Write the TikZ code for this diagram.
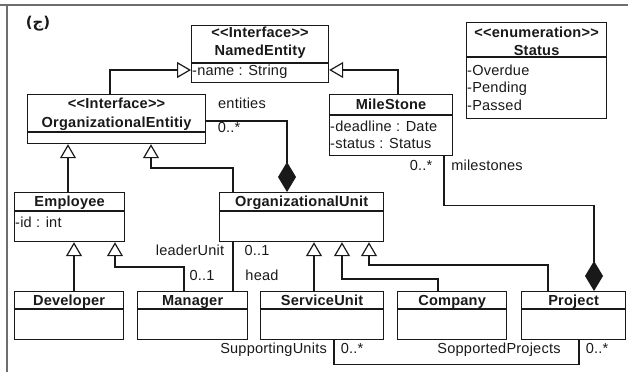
\documentclass[tikz,border=0pt]{standalone}
\usepackage{fontspec}
\setmainfont{Liberation Sans}[LetterSpace=1.5]
\newfontfamily\arabicfont[Script=Arabic]{DejaVu Sans}
\usetikzlibrary{arrows.meta}
\definecolor{ink}{RGB}{25,25,25}
\definecolor{framegray}{RGB}{110,110,110}
\tikzset{
  clsbox/.style={draw=ink, line width=1.2bp, inner sep=0pt, rectangle},
  divline/.style={draw=ink, line width=1.2bp},
  hd/.style={font=\fontsize{14.6}{16}\selectfont\bfseries, inner sep=0pt, text=ink, anchor=base},
  attr/.style={font=\fontsize{14.6}{16}\selectfont, inner sep=0pt, anchor=base west, text=ink},
  lbl/.style={font=\fontsize{14.6}{16}\selectfont, inner sep=0pt, text=ink, anchor=base},
  conn/.style={draw=ink, line width=1.2bp},
  gen/.style={conn, -{Triangle[open, length=14bp, width=16bp]}},
  comp/.style={conn, -{Diamond[length=30bp, width=18bp]}},
  frameline/.style={draw=framegray, line width=2bp},
}
% name, x1, y1, x2, y2, divider y
\newcommand\umlbox[6]{%
  \node[clsbox, anchor=north west, minimum width={(#4-#2)*1bp}, minimum height={(#5-#3)*1bp}] (#1) at (#2,#3) {};
  \draw[divline] (#1.west |- 0,#6) -- (#1.east |- 0,#6);
}
\begin{document}
\begin{tikzpicture}[x=1bp,y=-1bp]
\useasboundingbox (0,0) rectangle (635,372);
% frame
\draw[frameline] (0,5) -- (628,5);
\draw[frameline] (6.5,5) -- (6.5,372);
\node[inner sep=0pt, text=ink] (tag) at (38,24) {\arabicfont\bfseries\fontsize{15}{17}\selectfont (ج)};

% boxes
\umlbox{ne}{191}{25}{328}{82}{63}
\umlbox{st}{466}{22}{606}{118}{57}
\umlbox{oe}{27}{94}{205}{143}{132}
\umlbox{ms}{329}{94}{452}{155}{115}
\umlbox{em}{14}{192}{124}{241}{211}
\umlbox{ou}{219}{192}{383}{241}{211}
\umlbox{dv}{14}{291}{123}{339}{309}
\umlbox{mg}{137}{291}{247}{339}{309}
\umlbox{su}{260}{291}{383}{339}{309}
\umlbox{co}{397}{291}{506}{339}{309}
\umlbox{pr}{521}{291}{625}{339}{309}

% texts
\node[hd] (neS) at (ne.north |- 0,37) {<{}<Interface>{}>};
\node[hd] (neN) at (ne.north |- 0,55) {NamedEntity};
\node[attr] (neA) at ([xshift=1bp]ne.west |- 0,75) {-name : String};

\node[hd] (stS) at (st.north |- 0,37) {<{}<enumeration>{}>};
\node[hd] (stN) at (st.north |- 0,55) {Status};
\node[attr] (stA) at ([xshift=1bp]st.west |- 0,75) {-Overdue};
\node[attr] (stB) at ([xshift=1bp]st.west |- 0,92) {-Pending};
\node[attr] (stC) at ([xshift=1bp]st.west |- 0,110) {-Passed};

\node[hd] (oeS) at (oe.north |- 0,108) {<{}<Interface>{}>};
\node[hd] (oeN) at (oe.north |- 0,127) {OrganizationalEntitiy};

\node[hd] (msN) at (ms.north |- 0,109) {MileStone};
\node[attr] (msA) at ([xshift=1bp]ms.west |- 0,131) {-deadline : Date};
\node[attr] (msB) at ([xshift=1bp]ms.west |- 0,148) {-status : Status};

\node[hd] (emN) at (em.north |- 0,206) {Employee};
\node[attr] (emA) at ([xshift=1bp]em.west |- 0,227) {-id : int};

\node[hd] (ouN) at (ou.north |- 0,206) {OrganizationalUnit};

\node[hd] (dvN) at (dv.north |- 0,305) {Developer};
\node[hd] (mgN) at (mg.north |- 0,305) {Manager};
\node[hd] (suN) at (su.north |- 0,305) {ServiceUnit};
\node[hd] (coN) at (co.north |- 0,305) {Company};
\node[hd] (prN) at (pr.north |- 0,305) {Project};

% connectors
\draw[gen] (oe.north -| 110,0) |- (ne.west |- 0,70);
\draw[gen] (ms.north -| 398,0) |- (ne.east |- 0,70);
\draw[comp] (oe.east |- 0,121) -| (ou.north -| 287,0);
\draw[gen] (em.north -| 68,0) -- (oe.south -| 68,0);
\draw[gen] (ou.north -| 233,0) -- ++(0,-24) -| (oe.south -| 151,0);
\draw[gen] (dv.north -| 74,0) -- (em.south -| 74,0);
\draw[gen] (mg.north -| 184,0) -- ++(0,-24) -| (em.south -| 115,0);
\draw[conn] (ou.south -| 233,0) -- (mg.north -| 233,0);
\draw[gen] (su.north -| 314,0) -- (ou.south -| 314,0);
\draw[gen] (co.north -| 438,0) -- ++(0,-12) -| (ou.south -| 342,0);
\draw[gen] (pr.north -| 548,0) -- ++(0,-26) -| (ou.south -| 369,0);
\draw[comp] (ms.south -| 444,0) -- ++(0,49) -| (pr.north -| 594,0);
\draw[conn] (su.south -| 334,0) -- ++(0,24) -| (pr.south -| 579,0);

% labels
\node[lbl] (l1) at (242,108) {entities};
\node[lbl] (l2) at (229,132) {0..*};
\node[lbl] (l3) at (421,170) {0..*};
\node[lbl] (l4) at (487,170) {milestones};
\node[lbl] (l5) at (190,255) {leaderUnit};
\node[lbl] (l6) at (257,255) {0..1};
\node[lbl] (l7) at (202,280) {0..1};
\node[lbl] (l8) at (262,280) {head};
\node[lbl, anchor=base east] (l9) at (327,353) {SupportingUnits};
\node[lbl] (l10) at (352,353) {0..*};
\node[lbl] (l11) at (499,353) {SopportedProjects};
\node[lbl] (l12) at (597,353) {0..*};
\end{tikzpicture}
\end{document}
